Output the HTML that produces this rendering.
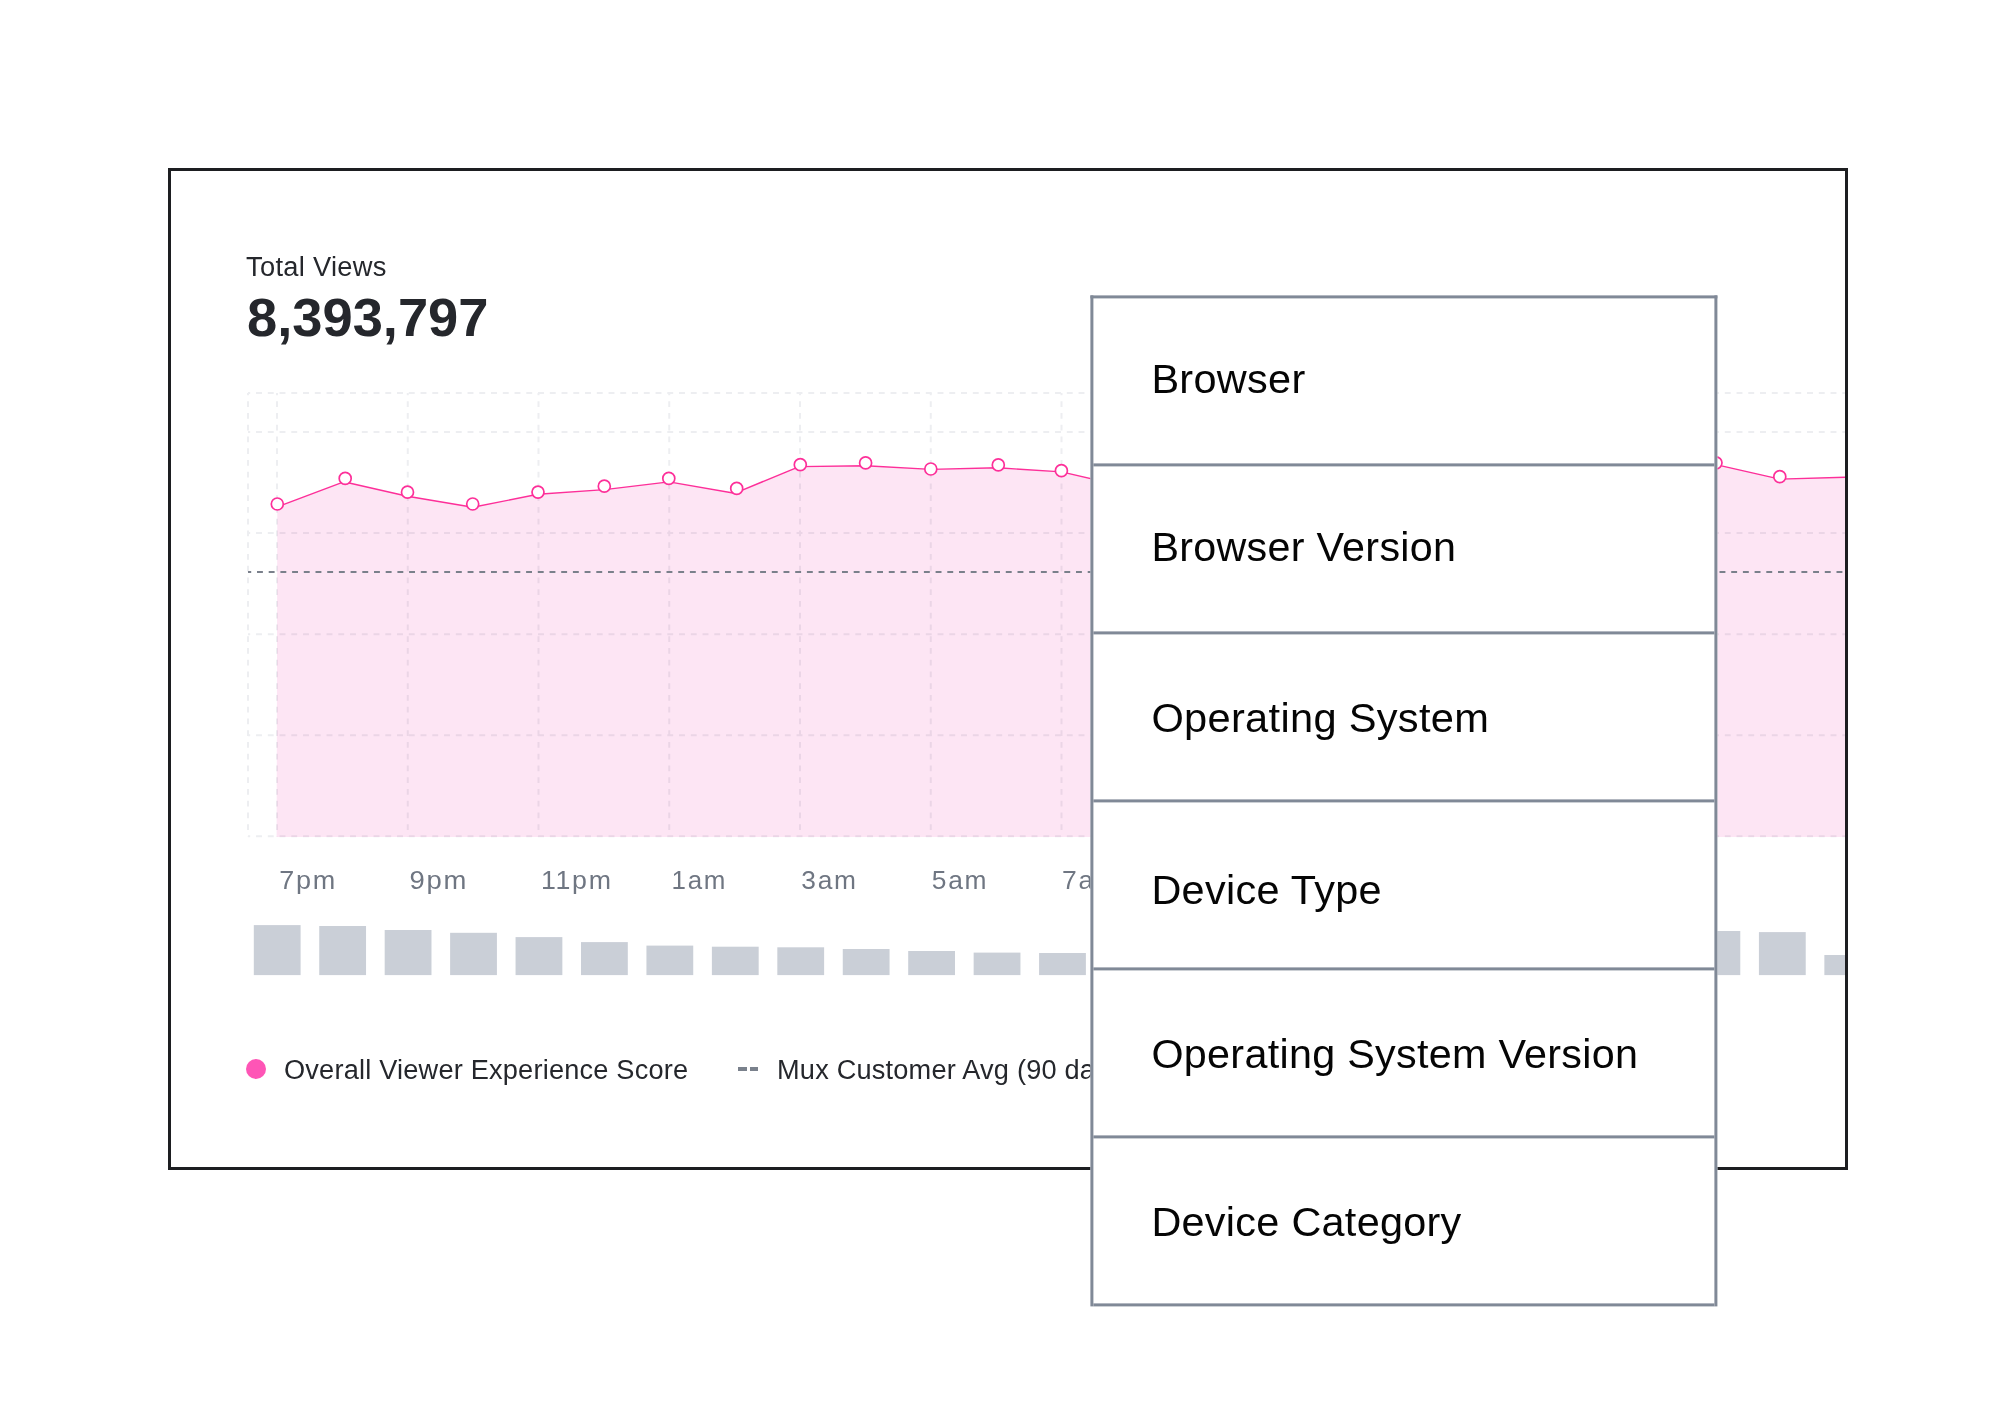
<!DOCTYPE html>
<html lang="en">
<head>
<meta charset="utf-8">
<title>Total Views</title>
<style>
html,body{margin:0;padding:0;background:#fff;}
body{width:2016px;height:1428px;overflow:hidden;position:relative;font-family:"Liberation Sans",sans-serif;}
.card{position:absolute;left:168px;top:168px;width:1680px;height:1002px;box-sizing:border-box;border:3px solid #1d1e21;background:#fff;overflow:hidden;}
.t{position:absolute;margin:0;padding:0;white-space:nowrap;line-height:0;transform-origin:0 0;font-weight:400;}
.stat-label{font-size:26.8px;letter-spacing:0.3px;color:#25272c;}
.stat-value{font-size:54.5px;font-weight:700;letter-spacing:0;color:#25272c;}
.chart{position:absolute;left:-171px;top:-171px;display:block;}
.chart text{font-family:"Liberation Sans",sans-serif;font-size:26.5px;letter-spacing:1.7px;fill:#6f7682;}
.legend{position:absolute;left:0;top:0;margin:0;padding:0;list-style:none;}
.legend .t{font-size:26.8px;letter-spacing:0.2px;color:#25272c;}
.dot{position:absolute;left:75px;top:888px;width:20px;height:20px;border-radius:50%;background:#fe55b6;}
.dash{position:absolute;left:567px;top:896px;width:21px;height:4px;background:linear-gradient(90deg,transparent 0.3px,#7a818c 0.3px,#7a818c 8.9px,transparent 8.9px,transparent 12.3px,#7a818c 12.3px,#7a818c 20.3px,transparent 20.3px);}
.menu{position:absolute;left:1091px;top:296px;width:627px;margin:0;padding:0;list-style:none;transform:translate(-0.6px,-0.6px);transform-origin:0 0;box-sizing:border-box;border:3px solid #808997;border-bottom:0;background:#fff;}
.menu li{position:relative;height:165px;margin:0;padding:0;border-bottom:3px solid #808997;font-size:41px;letter-spacing:0.3px;color:#050505;}
</style>
</head>
<body>
<div class="card">
<div class="t stat-label" style="left:74.69px;top:96px;transform:scaleX(1.0176)">Total Views</div>
<div class="t stat-value" style="left:75.66px;top:146.5px;transform:scaleX(0.9960)">8,393,797</div>
<svg class="chart" width="2016" height="1428" viewBox="0 0 2016 1428">
<polygon fill="#fde5f4" points="277.3,506.9 343.7,481.8 407.4,496.2 472.8,507.3 538,494.3 604.6,489.6 669,481.9 734.5,493.3 799.2,466.6 865.6,465.7 931,469.4 998,467.8 1061.5,471.9 1127,487 1192,484 1258,477 1323,481 1389,473 1454,477 1520,471 1585,475 1650,469 1716,464.6 1779.8,479.1 1850,477.1 1850,836.9 276.6,836.9"/>
<g fill="none" stroke="#edeef1" stroke-width="2" stroke-dasharray="5.9 5.85" stroke-dashoffset="3.6" style="mix-blend-mode:multiply">
<path d="M248 393V836.3"/>
<path d="M277 393V836.3M407.75 393V836.3M538.5 393V836.3M669.25 393V836.3M800 393V836.3M930.75 393V836.3M1061.5 393V836.3M1192.25 393V836.3M1323 393V836.3M1453.75 393V836.3M1584.5 393V836.3M1715.25 393V836.3"/>
<path stroke-dashoffset="3.7" d="M248 393H1850M248 432H1850M248 533H1850M248 634.3H1850M248 735.3H1850M248 836.3H1850"/>
</g>
<path d="M248 572H1850" fill="none" stroke="#7a808b" stroke-width="2" stroke-dasharray="5.9 5.8" stroke-dashoffset="2.7"/>
<polyline fill="none" stroke="#fd2f99" stroke-width="1.4" stroke-linejoin="round" points="277.3,506.9 343.7,481.8 407.4,496.2 472.8,507.3 538,494.3 604.6,489.6 669,481.9 734.5,493.3 799.2,466.6 865.6,465.7 931,469.4 998,467.8 1061.5,471.9 1127,487 1192,484 1258,477 1323,481 1389,473 1454,477 1520,471 1585,475 1650,469 1716,464.6 1779.8,479.1 1850,477.1"/>
<g fill="#fff" stroke="#fd2f99" stroke-width="1.7">
<circle cx="277.3" cy="504" r="6"/>
<circle cx="345.2" cy="478.4" r="6"/>
<circle cx="407.5" cy="492.2" r="6"/>
<circle cx="472.7" cy="504" r="6"/>
<circle cx="538" cy="492.1" r="6"/>
<circle cx="604.3" cy="486.2" r="6"/>
<circle cx="668.8" cy="478.4" r="6"/>
<circle cx="736.7" cy="488.4" r="6"/>
<circle cx="800.3" cy="464.7" r="6"/>
<circle cx="865.6" cy="462.9" r="6"/>
<circle cx="930.8" cy="469" r="6"/>
<circle cx="998.3" cy="464.9" r="6"/>
<circle cx="1061.4" cy="470.7" r="6"/>
<circle cx="1127" cy="487" r="6"/>
<circle cx="1192" cy="481" r="6"/>
<circle cx="1258" cy="474" r="6"/>
<circle cx="1323" cy="478" r="6"/>
<circle cx="1389" cy="470" r="6"/>
<circle cx="1454" cy="474" r="6"/>
<circle cx="1520" cy="468" r="6"/>
<circle cx="1585" cy="472" r="6"/>
<circle cx="1650" cy="466" r="6"/>
<circle cx="1716" cy="462.8" r="6"/>
<circle cx="1779.8" cy="476.7" r="6"/>
</g>
<g>
<text transform="matrix(1.0192 0 0 1 279.13 888.50)">7pm</text>
<text transform="matrix(1.0365 0 0 1 409.40 888.50)">9pm</text>
<text transform="matrix(1.0099 0 0 1 540.88 888.50)">11pm</text>
<text transform="matrix(0.9795 0 0 1 671.54 888.50)">1am</text>
<text transform="matrix(0.9933 0 0 1 801.31 888.50)">3am</text>
<text transform="matrix(0.9952 0 0 1 931.80 888.50)">5am</text>
<text transform="matrix(1.0000 0 0 1 1062.05 888.50)">7am</text>
<text transform="matrix(1.0000 0 0 1 1193.45 888.50)">9am</text>
<text transform="matrix(1.0000 0 0 1 1325.00 888.50)">11am</text>
<text transform="matrix(1.0000 0 0 1 1455.50 888.50)">1pm</text>
<text transform="matrix(1.0000 0 0 1 1586.50 888.50)">3pm</text>
</g>
<g fill="#cacfd7">
<rect x="253.8" y="925.1" width="46.8" height="50"/>
<rect x="319.24" y="926" width="46.8" height="49.1"/>
<rect x="384.68" y="930" width="46.8" height="45.1"/>
<rect x="450.12" y="932.8" width="46.8" height="42.3"/>
<rect x="515.56" y="937.1" width="46.8" height="38"/>
<rect x="581" y="942.1" width="46.8" height="33"/>
<rect x="646.44" y="945.6" width="46.8" height="29.5"/>
<rect x="711.88" y="946.7" width="46.8" height="28.4"/>
<rect x="777.32" y="947.3" width="46.8" height="27.8"/>
<rect x="842.76" y="949" width="46.8" height="26.1"/>
<rect x="908.2" y="951" width="46.8" height="24.1"/>
<rect x="973.64" y="952.6" width="46.8" height="22.5"/>
<rect x="1039.08" y="953" width="46.8" height="22.1"/>
<rect x="1104.52" y="954" width="46.8" height="21.1"/>
<rect x="1169.96" y="954.5" width="46.8" height="20.6"/>
<rect x="1235.4" y="953" width="46.8" height="22.1"/>
<rect x="1300.84" y="950" width="46.8" height="25.1"/>
<rect x="1366.28" y="947" width="46.8" height="28.1"/>
<rect x="1431.72" y="943" width="46.8" height="32.1"/>
<rect x="1497.16" y="939" width="46.8" height="36.1"/>
<rect x="1562.6" y="936" width="46.8" height="39.1"/>
<rect x="1628.04" y="933" width="46.8" height="42.1"/>
<rect x="1693.48" y="931" width="46.8" height="44.1"/>
<rect x="1758.92" y="932.1" width="46.8" height="43"/>
<rect x="1824.36" y="955" width="46.8" height="20.1"/>
</g>
</svg>
<ul class="legend">
<li><span class="dot"></span><span class="t" style="left:113.33px;top:899px;transform:scaleX(1.0135)">Overall Viewer Experience Score</span></li>
<li><span class="dash"></span><span class="t" style="left:606.12px;top:899px;transform:scaleX(1.0135)">Mux Customer Avg (90 days)</span></li>
</ul>
</div>
<ul class="menu">
<li><span class="t" style="left:58.26px;top:80.6px;transform:scaleX(1.0108)">Browser</span></li>
<li><span class="t" style="left:58.13px;top:80.6px;transform:scaleX(1.0062)">Browser Version</span></li>
<li><span class="t" style="left:58.17px;top:83.6px;transform:scaleX(1.0146)">Operating System</span></li>
<li><span class="t" style="left:58.12px;top:87.6px;transform:scaleX(1.0101)">Device Type</span></li>
<li><span class="t" style="left:58.29px;top:83.6px;transform:scaleX(1.0071)">Operating System Version</span></li>
<li><span class="t" style="left:58.12px;top:83.6px;transform:scaleX(1.0084)">Device Category</span></li>
</ul>
</body>
</html>
